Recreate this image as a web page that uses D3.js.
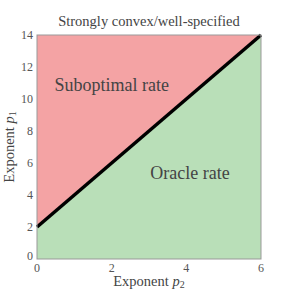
<!DOCTYPE html>
<html>
<head>
<meta charset="utf-8">
<script src="https://cdn.jsdelivr.net/npm/d3@7"></script>
<style>
  body { margin: 0; background: #fff; }
  text { font-family: "Liberation Serif", "DejaVu Serif", serif; }
</style>
</head>
<body>
<div id="chart"></div>
<script>
// boundary line p1 = 2 + 2*p2
const boundaryP2 = [0, 6];
const boundaryP1 = [2, 14];
const xTicks = [0, 2, 4, 6];
const yTicks = [0, 2, 4, 6, 8, 10, 12, 14];
const regionNames = ["Suboptimal rate", "Oracle rate"];
const regionAt = [[2, 10.5], [4.1, 5.0]]; // label anchor in data units

(function() {
  const margin = { top: 35, right: 30, bottom: 32, left: 37 },
        width = 291 - margin.left - margin.right,
        height = 291 - margin.top - margin.bottom;

  const svg = d3.select("#chart")
    .append("svg")
    .attr("width", 291)
    .attr("height", 291)
    .append("g")
    .attr("transform", `translate(${margin.left},${margin.top})`);

  const x = d3.scaleLinear().domain([0, 6]).range([0, width]);
  const y = d3.scaleLinear().domain([0, 14]).range([height, 0]);

  const pts = boundaryP2.map((p, i) => [x(p), y(boundaryP1[i])]);

  // red region (above line)
  svg.append("path")
    .attr("d", d3.line()([[x(0), y(14)], pts[0], pts[1], [x(6), y(14)]]))
    .attr("fill", "#f4a3a4");

  // green region (below line)
  svg.append("path")
    .attr("d", d3.line()([[x(0), y(0)], pts[0], pts[1], [x(6), y(0)]]))
    .attr("fill", "#b9dfb8");

  svg.append("path")
    .attr("d", d3.line()(pts))
    .attr("stroke", "black")
    .attr("stroke-width", 3.5)
    .attr("fill", "none");

  svg.append("rect")
    .attr("width", width)
    .attr("height", height)
    .attr("fill", "none")
    .attr("stroke", "#999")
    .attr("stroke-width", 1);

  svg.selectAll(".xt")
    .data(xTicks)
    .enter()
    .append("text")
    .attr("x", d => x(d))
    .attr("y", height + 13)
    .attr("text-anchor", "middle")
    .attr("fill", "#555")
    .style("font-size", "12px")
    .text(d => d);

  svg.selectAll(".yt")
    .data(yTicks)
    .enter()
    .append("text")
    .attr("x", -4)
    .attr("y", d => y(d) + (d === 0 ? 1 : 4))
    .attr("text-anchor", "end")
    .attr("fill", "#555")
    .style("font-size", "12px")
    .text(d => d);

  svg.append("text")
    .attr("x", width / 2)
    .attr("y", -9)
    .attr("text-anchor", "middle")
    .attr("fill", "#444")
    .style("font-size", "14.5px")
    .text("Strongly convex/well-specified");

  const xl = svg.append("text")
    .attr("x", width / 2)
    .attr("y", height + 27)
    .attr("text-anchor", "middle")
    .attr("fill", "#444")
    .style("font-size", "14.5px");
  xl.append("tspan").text("Exponent ");
  xl.append("tspan").style("font-style", "italic").text("p");
  xl.append("tspan").attr("dy", 2).style("font-size", "10px").text("2");

  const yl = svg.append("text")
    .attr("x", -height / 2)
    .attr("y", -23)
    .attr("transform", "rotate(-90)")
    .attr("text-anchor", "middle")
    .attr("fill", "#444")
    .style("font-size", "14.5px");
  yl.append("tspan").text("Exponent ");
  yl.append("tspan").style("font-style", "italic").text("p");
  yl.append("tspan").attr("dy", 2).style("font-size", "10px").text("1");

  svg.selectAll(".region")
    .data(regionNames)
    .enter()
    .append("text")
    .attr("x", (d, i) => x(regionAt[i][0]))
    .attr("y", (d, i) => y(regionAt[i][1]))
    .attr("text-anchor", "middle")
    .attr("fill", "#444")
    .style("font-size", "18px")
    .text(d => d);
})();
</script>
</body>
</html>
